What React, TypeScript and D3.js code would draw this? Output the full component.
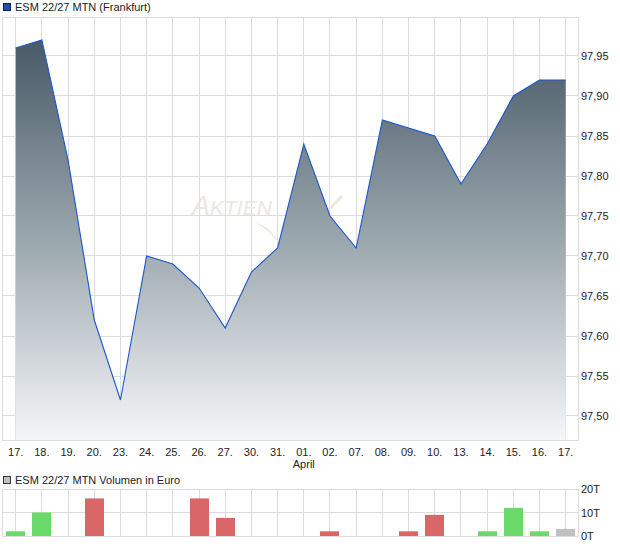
import React from 'react';
import * as d3 from 'd3';

const dates = ['17.', '18.', '19.', '20.', '23.', '24.', '25.', '26.', '27.', '30.', '31.', '01.', '02.', '07.', '08.', '09.', '10.', '13.', '14.', '15.', '16.', '17.'];
const prices = [97.96, 97.97, 97.82, 97.62, 97.52, 97.70, 97.69, 97.66, 97.61, 97.68, 97.71, 97.84, 97.75, 97.71, 97.87, 97.86, 97.85, 97.79, 97.84, 97.90, 97.92, 97.92];
const volumes = [2, 10, 0, 16, 0, 0, 0, 16, 7.7, 0, 0, 0, 2, 0, 0, 2, 9, 0, 2, 12, 2, 3];
const priceTicks = [97.5, 97.55, 97.6, 97.65, 97.7, 97.75, 97.8, 97.85, 97.9, 97.95];
const volumeTicks = [0, 10, 20];
const volumeTickLabels = ['0T', '10T', '20T'];
const monthLabels = [{ index: 11, label: 'April' }];
const titleMain = 'ESM 22/27 MTN (Frankfurt)';
const titleVolume = 'ESM 22/27 MTN Volumen in Euro';

const W = 620;
const H = 546;
const plotL = 2.5;
const plotR = 578.5;
const plotT = 17;
const plotB = 440;
const volT = 489;
const volB = 536;
const FONT = '"Liberation Sans", Arial, sans-serif';
const GRID = '#dcdcdc';

export default function App() {
  const idx = dates.map((_, i) => i);
  const x = d3.scalePoint<number>().domain(idx).range([15.7, 565.7]);
  const y = d3.scaleLinear().domain([97.47, 98.0]).range([plotB, 16]);
  const yV = d3.scaleLinear().domain([0, 20]).range([volB, volT]);
  const crisp = (v: number) => Math.floor(v) + 0.5;

  const area = d3
    .area<number>()
    .x((_, i) => x(i) as number)
    .y0(plotB)
    .y1((d) => y(d));
  const line = d3
    .line<number>()
    .x((_, i) => x(i) as number)
    .y((d) => y(d));

  const colorFor = (i: number) => {
    if (i === 0) return '#6ad96a';
    const d = prices[i] - prices[i - 1];
    if (d > 0.00001) return '#6ad96a';
    if (d < -0.00001) return '#d96767';
    return '#c0c0c0';
  };

  const barW = 19;

  return (
    <svg
      width={W}
      height={H}
      style={{ position: 'absolute', left: 0, top: 0, background: '#fff' }}
      fontFamily={FONT}
    >
      <defs>
        <linearGradient id="fillGrad" gradientUnits="userSpaceOnUse" x1="0" y1="40" x2="0" y2={plotB}>
          <stop offset="0" stopColor="#485a67" />
          <stop offset="0.5" stopColor="#9ba7ae" />
          <stop offset="1" stopColor="#f5f6f8" />
        </linearGradient>
      </defs>

      {/* Main title */}
      <rect x={3.5} y={3.5} width={7} height={7} fill="#1d4fb8" stroke="#102040" strokeWidth={1} />
      <text x={15} y={11} fontSize={11} fill="#222">{titleMain}</text>

      {/* Main grid */}
      <g stroke={GRID} strokeWidth={1} fill="none">
        {idx.map((i) => (
          <line key={'v' + i} x1={crisp(x(i) as number)} x2={crisp(x(i) as number)} y1={plotT} y2={plotB} />
        ))}
        {priceTicks.map((t) => (
          <line key={'h' + t} x1={plotL} x2={plotR} y1={crisp(y(t))} y2={crisp(y(t))} />
        ))}
        <rect x={plotL} y={plotT + 0.5} width={plotR - plotL} height={plotB - plotT} />
      </g>

      {/* Watermark */}
      <g fill="#ebe6df" stroke="none">
        <text x={192} y={215} fontSize={27} fontStyle="italic" fontFamily={FONT}>
          A<tspan fontSize={21}>KTIEN</tspan>
        </text>
        <path d="M256,223 Q272,226 284,252 L341,195 L343,197 L286,256 Q276,234 256,223 Z" />
      </g>

      {/* Area and line */}
      <path d={area(prices) || ''} fill="url(#fillGrad)" />
      <path d={line(prices) || ''} fill="none" stroke="#1a55cc" strokeWidth={1.1} />

      {/* Y axis labels */}
      {priceTicks.map((t) => (
        <text key={'yl' + t} x={581} y={y(t) + 4} fontSize={11} fill="#222">
          {t.toFixed(2).replace('.', ',')}
        </text>
      ))}

      {/* X axis labels */}
      {dates.map((d, i) => (
        <text key={'xl' + i} x={x(i) as number} y={456} fontSize={11} fill="#222" textAnchor="middle">
          {d}
        </text>
      ))}
      {monthLabels.map((m) => (
        <text key={'m' + m.index} x={x(m.index) as number} y={468} fontSize={11} fill="#222" textAnchor="middle">
          {m.label}
        </text>
      ))}

      {/* Volume title */}
      <rect x={3.5} y={476.5} width={7} height={7} fill="#c0c0c0" stroke="#333" strokeWidth={1} />
      <text x={15} y={484} fontSize={11} fill="#222">{titleVolume}</text>

      {/* Volume grid */}
      <g stroke={GRID} strokeWidth={1} fill="none">
        {idx.map((i) => (
          <line key={'vv' + i} x1={crisp(x(i) as number)} x2={crisp(x(i) as number)} y1={volT} y2={volB} />
        ))}
        {volumeTicks.map((t) => (
          <line key={'vh' + t} x1={plotL} x2={plotR} y1={crisp(yV(t))} y2={crisp(yV(t))} />
        ))}
        <line x1={plotL} x2={plotL} y1={volT} y2={volB} />
        <line x1={plotR} x2={plotR} y1={volT} y2={volB} />
      </g>

      {/* Volume bars */}
      {volumes.map((v, i) =>
        v > 0 ? (
          <rect
            key={'b' + i}
            x={Math.round((x(i) as number) - barW / 2)}
            y={yV(v)}
            width={barW}
            height={volB - yV(v)}
            fill={colorFor(i)}
          />
        ) : null
      )}

      {/* Volume labels */}
      {volumeTicks.map((t, k) => (
        <text key={'vl' + t} x={581} y={yV(t) + 4} fontSize={11} fill="#222">
          {volumeTickLabels[k]}
        </text>
      ))}
    </svg>
  );
}
